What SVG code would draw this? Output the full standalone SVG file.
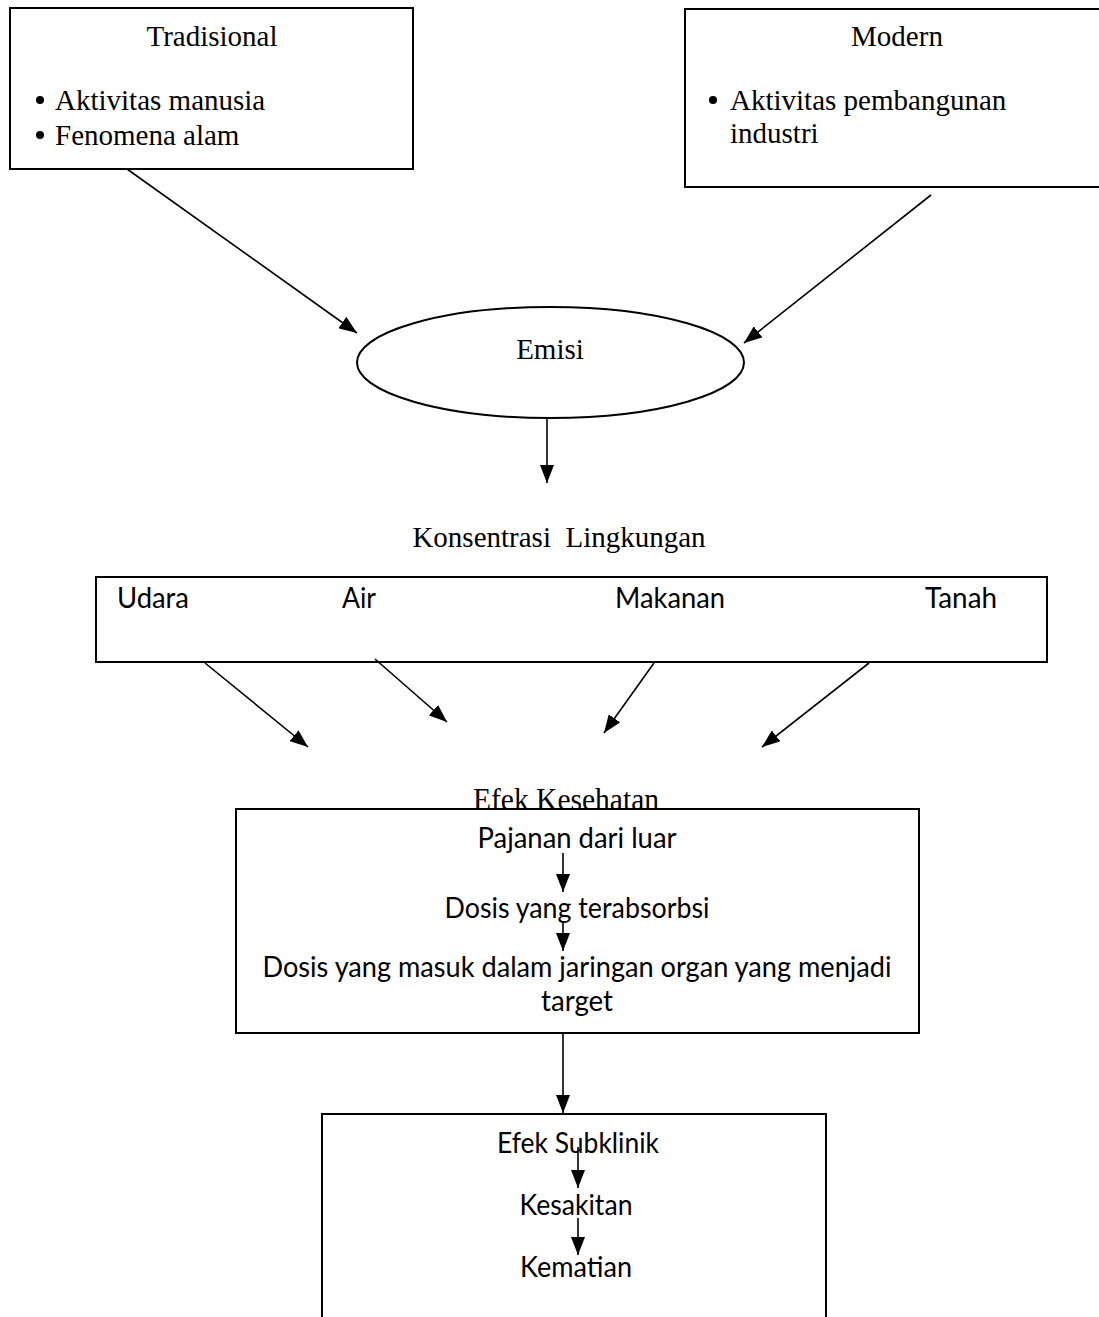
<svg xmlns="http://www.w3.org/2000/svg" width="1099" height="1317" viewBox="0 0 1099 1317">
<style>
.box{fill:#fff;stroke:#000;stroke-width:2}
.serif{font-family:"Liberation Serif","Times New Roman",serif;font-size:29px;fill:#000}
.sans{font-family:Lato,"Liberation Sans",sans-serif;font-size:29px;fill:#000}
.mid{text-anchor:middle}
.conn{stroke:#000;stroke-width:1.6;fill:none;marker-end:url(#ah)}
</style>
<defs>
<marker id="ah" viewBox="0 0 18 14" refX="18" refY="7" markerWidth="18" markerHeight="14" markerUnits="userSpaceOnUse" orient="auto">
<path d="M0,0 L18,7 L0,14 z" fill="#000"/>
</marker>
</defs>
<rect width="1099" height="1317" fill="#fff"/>

<g id="tradisional">
<rect class="box" x="10" y="8" width="403" height="161"/>
<text class="serif mid" x="212" y="46">Tradisional</text>
<circle cx="40" cy="100" r="4" fill="#000"/>
<text class="serif" x="55" y="110">Aktivitas manusia</text>
<circle cx="40" cy="135" r="4" fill="#000"/>
<text class="serif" x="55" y="145">Fenomena alam</text>
</g>

<g id="modern">
<rect class="box" x="685" y="9" width="430" height="178"/>
<text class="serif mid" x="897" y="46">Modern</text>
<circle cx="713" cy="100" r="4" fill="#000"/>
<text class="serif" x="730" y="110">Aktivitas pembangunan</text>
<text class="serif" x="730" y="143">industri</text>
</g>

<g id="emisi">
<ellipse class="box" cx="550.5" cy="362.5" rx="193.5" ry="55.5"/>
<text class="serif mid" x="550" y="359">Emisi</text>
</g>

<g id="konsentrasi-label">
<text class="serif mid" x="559" y="547" xml:space="preserve">Konsentrasi  Lingkungan</text>
</g>

<g id="lingkungan">
<rect class="box" x="96" y="577" width="951" height="85"/>
<text class="sans" x="117" y="608" textLength="72" lengthAdjust="spacingAndGlyphs">Udara</text>
<text class="sans" x="342" y="608" textLength="34" lengthAdjust="spacingAndGlyphs">Air</text>
<text class="sans" x="615" y="608" textLength="110" lengthAdjust="spacingAndGlyphs">Makanan</text>
<text class="sans" x="925" y="608" textLength="72" lengthAdjust="spacingAndGlyphs">Tanah</text>
</g>

<g id="efek-label">
<text class="serif mid" x="566" y="810" style="font-size:32px" textLength="186" lengthAdjust="spacingAndGlyphs">Efek Kesehatan</text>
</g>

<g id="efek-kesehatan">
<rect class="box" x="236" y="809" width="683" height="224"/>
<text class="sans mid" x="577" y="848" textLength="199" lengthAdjust="spacingAndGlyphs">Pajanan dari luar</text>
<text class="sans mid" x="577" y="918" textLength="265" lengthAdjust="spacingAndGlyphs">Dosis yang terabsorbsi</text>
<text class="sans mid" x="577" y="977" textLength="629" lengthAdjust="spacingAndGlyphs">Dosis yang masuk dalam jaringan organ yang menjadi</text>
<text class="sans mid" x="577" y="1011" textLength="72" lengthAdjust="spacingAndGlyphs">target</text>
</g>

<g id="efek-klinik">
<rect class="box" x="322" y="1114" width="504" height="220"/>
<text class="sans mid" x="578" y="1153" textLength="162" lengthAdjust="spacingAndGlyphs">Efek Subklinik</text>
<text class="sans mid" x="576" y="1215" textLength="113" lengthAdjust="spacingAndGlyphs">Kesakitan</text>
<text class="sans mid" x="576" y="1277" textLength="112" lengthAdjust="spacingAndGlyphs">Kematian</text>
</g>

<g id="connectors">
<line class="conn" x1="127" y1="169" x2="357" y2="333"/>
<line class="conn" x1="931" y1="195" x2="744" y2="343"/>
<line class="conn" x1="547" y1="418" x2="547" y2="483"/>
<line class="conn" x1="205" y1="663" x2="308" y2="747"/>
<line class="conn" x1="375" y1="659" x2="447" y2="722"/>
<line class="conn" x1="654" y1="663" x2="604" y2="733"/>
<line class="conn" x1="869" y1="663" x2="762" y2="747"/>
<line class="conn" x1="563" y1="853" x2="563" y2="892"/>
<line class="conn" x1="563" y1="923" x2="563" y2="951"/>
<line class="conn" x1="563" y1="1033" x2="563" y2="1113"/>
<line class="conn" x1="578" y1="1147" x2="578" y2="1188"/>
<line class="conn" x1="578" y1="1218" x2="578" y2="1255"/>
</g>
</svg>
